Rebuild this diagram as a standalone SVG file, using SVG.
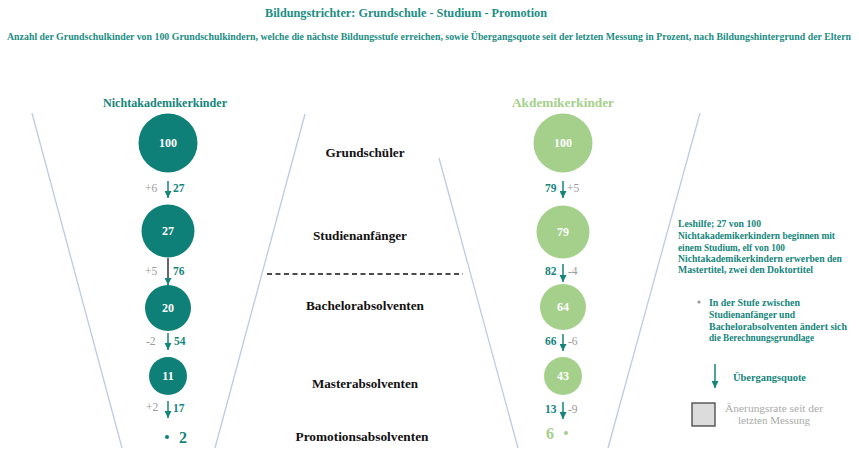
<svg xmlns="http://www.w3.org/2000/svg" width="859" height="450" viewBox="0 0 859 450">
<defs>
<style>
text{font-family:"Liberation Serif","Times New Roman",serif;font-weight:bold}
.title{fill:#1b8d84;font-size:13px}
.sub{fill:#1b8d84;font-size:9px}
.teal{fill:#15857c}
.gray{fill:#9a9a9a;font-weight:normal}
.num{fill:#ffffff;font-size:12px;text-anchor:middle}
.row{fill:#111;font-size:12px;text-anchor:middle}
.hd{font-size:12.5px;text-anchor:middle}
.sm{font-size:11.5px}
.dk{fill:#0f8078}
.lg{fill:#a4d08b}
.funnel{stroke:#bccbe5;stroke-width:1.3;fill:none}
.arr{stroke:#15857c;stroke-width:1.5;marker-end:url(#ah)}
.note{fill:#15857c;font-size:10.5px}
</style>
<marker id="ah" viewBox="0 0 8 8" refX="8" refY="4" markerWidth="7" markerHeight="7" markerUnits="userSpaceOnUse" orient="auto">
<path d="M0,0 L8,4 L0,8 z" fill="#15857c"/>
</marker>
</defs>
<rect width="859" height="450" fill="#fff"/>

<g id="title">
<text class="title" x="406" y="17" text-anchor="middle" textLength="282" lengthAdjust="spacingAndGlyphs">Bildungstrichter: Grundschule - Studium - Promotion</text>
<text class="sub" transform="translate(7,40) scale(1,1.15)" x="0" y="0" textLength="844" lengthAdjust="spacingAndGlyphs">Anzahl der Grundschulkinder von 100 Grundschulkindern, welche die nächste Bildungsstufe erreichen, sowie Übergangsquote seit der letzten Messung in Prozent, nach Bildungshintergrund der Eltern</text>
</g>

<g id="funnels">
<line class="funnel" x1="32" y1="113" x2="122" y2="448"/>
<line class="funnel" x1="305" y1="114" x2="215" y2="448"/>
<line class="funnel" x1="439" y1="158" x2="518" y2="448"/>
<line class="funnel" x1="700" y1="113" x2="608" y2="448"/>
</g>

<g id="headers">
<text class="hd teal" x="165" y="107" textLength="124" lengthAdjust="spacingAndGlyphs">Nichtakademikerkinder</text>
<text class="hd lg" x="563" y="107" textLength="102" lengthAdjust="spacingAndGlyphs">Akdemikerkinder</text>
</g>

<g id="rows">
<text class="row" x="365" y="157" textLength="79" lengthAdjust="spacingAndGlyphs">Grundschüler</text>
<text class="row" x="360" y="240" textLength="94" lengthAdjust="spacingAndGlyphs">Studienanfänger</text>
<line x1="267" y1="274" x2="463" y2="274" stroke="#111" stroke-width="1.6" stroke-dasharray="5,3.5"/>
<text class="row" x="365" y="310" textLength="118" lengthAdjust="spacingAndGlyphs">Bachelorabsolventen</text>
<text class="row" x="365" y="388" textLength="106" lengthAdjust="spacingAndGlyphs">Masterabsolventen</text>
<text class="row" x="362" y="441" textLength="133" lengthAdjust="spacingAndGlyphs">Promotionsabsolventen</text>
</g>

<g id="n-left-100"><circle class="dk" cx="168" cy="143" r="29.5"/><text class="num" x="168" y="147">100</text></g>
<g id="n-left-27"><circle class="dk" cx="168" cy="231" r="26.5"/><text class="num" x="168" y="235">27</text></g>
<g id="n-left-20"><circle class="dk" cx="168" cy="308" r="23"/><text class="num" x="168" y="312">20</text></g>
<g id="n-left-11"><circle class="dk" cx="168" cy="376" r="19"/><text class="num" x="168" y="380">11</text></g>
<g id="n-left-2"><circle class="dk" cx="167" cy="437" r="2"/><text class="teal" x="179" y="443" font-size="16">2</text></g>

<g id="n-right-100"><circle class="lg" cx="563" cy="143" r="29.5"/><text class="num" x="563" y="147">100</text></g>
<g id="n-right-79"><circle class="lg" cx="563" cy="232" r="26.5"/><text class="num" x="563" y="236">79</text></g>
<g id="n-right-64"><circle class="lg" cx="563" cy="307" r="23"/><text class="num" x="563" y="311">64</text></g>
<g id="n-right-43"><circle class="lg" cx="563" cy="376" r="19"/><text class="num" x="563" y="380">43</text></g>
<g id="n-right-6"><text class="lg" x="546" y="439" font-size="16">6</text><circle class="lg" cx="566" cy="433" r="2"/></g>

<g id="connectors">
<line class="arr" x1="168" y1="181" x2="168" y2="198"/>
<line class="arr" x1="168" y1="258" x2="168" y2="285" style="stroke:#333"/>
<line class="arr" x1="168" y1="333" x2="168" y2="350"/>
<line class="arr" x1="168" y1="401" x2="168" y2="418"/>
<line class="arr" x1="563" y1="181" x2="563" y2="198"/>
<line class="arr" x1="563" y1="264" x2="563" y2="282"/>
<line class="arr" x1="563" y1="334" x2="563" y2="351"/>
<line class="arr" x1="563" y1="402" x2="563" y2="419"/>
</g>

<g id="rates">
<text class="gray sm" x="145" y="192">+6</text><text class="teal sm" x="173" y="192">27</text>
<text class="gray sm" x="145" y="275">+5</text><text class="teal sm" x="173" y="275">76</text>
<text class="gray sm" x="146" y="345">-2</text><text class="teal sm" x="174" y="345">54</text>
<text class="gray sm" x="146" y="411">+2</text><text class="teal sm" x="173" y="412">17</text>
<text class="teal sm" x="545" y="192">79</text><text class="gray sm" x="567" y="192">+5</text>
<text class="teal sm" x="545" y="275">82</text><text class="gray sm" x="568" y="275">-4</text>
<text class="teal sm" x="545" y="345">66</text><text class="gray sm" x="568" y="345">-6</text>
<text class="teal sm" x="545" y="413">13</text><text class="gray sm" x="568" y="413">-9</text>
</g>

<g id="note">
<text class="note" x="678" y="227" textLength="83" lengthAdjust="spacingAndGlyphs">Leshilfe; 27 von 100</text>
<text class="note" x="678" y="239" textLength="157" lengthAdjust="spacingAndGlyphs">Nichtakademikerkindern beginnen mit</text>
<text class="note" x="678" y="251" textLength="107" lengthAdjust="spacingAndGlyphs">einem Studium, elf von 100</text>
<text class="note" x="678" y="262" textLength="164" lengthAdjust="spacingAndGlyphs">Nichtakademikerkindern erwerben den</text>
<text class="note" x="678" y="273" textLength="135" lengthAdjust="spacingAndGlyphs">Mastertitel, zwei den Doktortitel</text>
</g>

<g id="bullet">
<circle cx="699" cy="302" r="1.6" fill="#999"/>
<text class="note" x="709" y="306" textLength="91" lengthAdjust="spacingAndGlyphs">In der Stufe zwischen</text>
<text class="note" x="709" y="318" textLength="86" lengthAdjust="spacingAndGlyphs">Studienanfänger und</text>
<text class="note" x="709" y="330" textLength="138" lengthAdjust="spacingAndGlyphs">Bachelorabsolventen ändert sich</text>
<text class="note" x="709" y="341" textLength="105" lengthAdjust="spacingAndGlyphs">die Berechnungsgrundlage</text>
</g>

<g id="legend">
<line class="arr" x1="715" y1="364" x2="715" y2="388"/>
<text class="note" x="733" y="381" textLength="73" lengthAdjust="spacingAndGlyphs">Übergangsquote</text>
<rect x="692" y="403" width="23" height="23" fill="#dcdcdc" stroke="#444" stroke-width="1.3"/>
<text class="gray" x="774" y="412" font-size="11" text-anchor="middle" textLength="98" lengthAdjust="spacingAndGlyphs" style="fill:#aaa">Änerungsrate seit der</text>
<text class="gray" x="774" y="424" font-size="11" text-anchor="middle" textLength="72" lengthAdjust="spacingAndGlyphs" style="fill:#aaa">letzten Messung</text>
</g>
</svg>
